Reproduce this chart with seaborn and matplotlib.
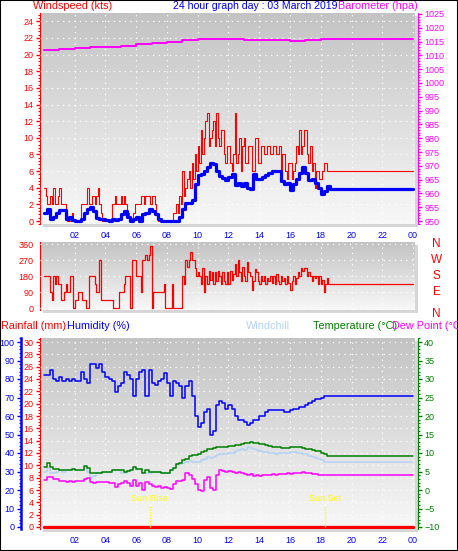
import numpy as np
import pandas as pd
import matplotlib
matplotlib.use("Agg")
import matplotlib.pyplot as plt
from matplotlib.ticker import MultipleLocator, FixedLocator
from matplotlib.patches import Rectangle
from matplotlib.colors import LinearSegmentedColormap
import seaborn as sns

# ---- data; the last entry of each series is the value held to 24:00
# 0.1 h samples for the gusty series (gust, direction)
fine_hours = list(np.round(np.arange(0, 18.41, 0.1), 1)) + [18.5]

gust_kts = [4, 3, 2, 2, 3, 2, 4, 2, 2, 3,
            4, 2, 2, 2, 1, 0, 0, 0, 1, 0,
            0, 0, 0, 0, 2, 2, 2, 2, 4, 2,
            2, 3, 3, 2, 3, 4, 2, 1, 0, 0,
            0, 0, 0, 0, 2, 2, 3, 2, 2, 2,
            3, 2, 3, 2, 1, 0, 0, 0, 1, 2,
            2, 2, 2, 3, 3, 2, 3, 3, 3, 2,
            3, 3, 2, 1, 0, 0, 0, 0, 0, 0,
            0, 0, 0, 0, 1, 1, 2, 1, 3, 2,
            6, 3, 4, 5, 6, 4, 7, 5, 8, 6,
            9, 7, 11, 8, 10, 12, 13, 9, 10, 11,
            12, 9, 13, 10, 9, 11, 11, 8, 7, 9,
            9, 7, 6, 8, 13, 7, 8, 10, 6, 9,
            10, 7, 7, 9, 9, 6, 6, 10, 10, 7,
            7, 9, 9, 8, 8, 9, 9, 8, 8, 9,
            9, 8, 8, 9, 6, 8, 8, 6, 5, 7,
            7, 5, 6, 7, 9, 8, 11, 8, 9, 11,
            11, 8, 7, 9, 6, 7, 4, 6, 6, 5,
            5, 6, 7, 7, 6,
            6]

wind_dir = [180, 180, 180, 180, 90, 45, 180, 135, 180, 135,
            135, 45, 45, 90, 135, 90, 90, 180, 180, 0,
            45, 45, 90, 90, 90, 45, 45, 0, 0, 180,
            180, 180, 180, 135, 90, 90, 270, 45, 45, 45,
            45, 45, 45, 45, 45, 0, 0, 0, 0, 90,
            90, 90, 135, 180, 180, 180, 0, 270, 270, 270,
            180, 180, 180, 90, 270, 270, 300, 270, 300, 350,
            0, 90, 90, 90, 90, 90, 90, 90, 135, 0,
            0, 0, 0, 135, 0, 0, 0, 0, 0, 0,
            180, 135, 270, 230, 270, 315, 270, 270, 225, 180,
            200, 180, 135, 225, 90, 180, 135, 210, 160, 200,
            135, 200, 150, 210, 180, 135, 200, 150, 135, 200,
            135, 210, 160, 190, 250, 180, 270, 200, 150, 230,
            180, 150, 260, 200, 180, 100, 150, 220, 200, 150,
            135, 180, 150, 180, 135, 170, 150, 180, 140, 180,
            135, 190, 150, 135, 180, 150, 170, 135, 180, 140,
            100, 150, 180, 135, 170, 200, 180, 225, 210, 225,
            225, 180, 200, 180, 150, 180, 170, 180, 135, 180,
            135, 160, 90, 135, 170,
            135]

# 0.2 h samples for the smoother series
hours = list(np.round(np.arange(0, 18.41, 0.2), 1)) + [18.6]

wind_kts = [1.0, 1.5, 0.2, 0.5, 1.0, 1.3, 1.3, 0.3, 0.5, 0.1,
            0.0, 0.0, 0.3, 1.0, 1.5, 1.7, 1.2, 0.4, 0.3, 0.3,
            0.1, 0.0, 0.2, 0.1, 0.3, 0.8, 1.2, 0.5, 0.0, 0.2,
            0.5, 0.0, 0.8, 1.0, 1.5, 1.2, 0.8, 0.3, 0.0, 0.0,
            0.0, 0.0, 0.0, 0.0, 0.5, 1.5, 2.2, 2.2, 2.5, 4.5,
            5.5, 5.6, 6.0, 6.5, 7.0, 6.8, 6.0, 5.4, 5.2, 4.9,
            5.3, 5.6, 4.3, 4.6, 4.2, 4.6, 4.0, 3.9, 5.6, 5.0,
            5.0, 5.3, 5.5, 5.8, 6.0, 6.0, 6.0, 4.8, 4.4, 4.6,
            3.7, 4.5, 5.0, 5.8, 6.5, 5.8, 4.9, 5.0, 4.6, 4.0,
            3.3, 3.6, 4.2,
            3.8]

humidity = [82, 82, 85, 80, 79, 81, 79, 80, 79, 80,
            79, 79, 84, 80, 78, 88, 88, 86, 88, 84,
            81, 80, 79, 73, 76, 78, 84, 82, 80, 71,
            80, 84, 85, 71, 85, 78, 77, 79, 80, 83,
            78, 71, 79, 78, 76, 70, 76, 79, 71, 60,
            54, 56, 62, 64, 50, 52, 66, 68, 67, 64,
            66, 64, 60, 58, 58, 57, 55, 56, 58, 58,
            60, 60, 62, 63, 63, 63, 63, 63, 62, 62,
            63, 64, 64, 65, 65, 66, 67, 68, 69, 69,
            70, 71, 71,
            71]

temperature = [6.3, 7.2, 6.2, 5.8, 5.6, 5.5, 5.5, 5.5, 5.5, 5.6,
               5.5, 5.5, 5.5, 6.5, 6.0, 4.5, 4.5, 4.5, 4.6, 4.8,
               4.8, 5.0, 5.4, 5.4, 5.3, 5.3, 5.0, 5.2, 5.3, 6.3,
               5.6, 5.6, 4.6, 5.3, 5.0, 4.9, 4.9, 4.9, 4.5, 4.5,
               4.6, 5.3, 6.0, 7.0, 7.3, 8.2, 8.5, 9.3, 9.5, 9.5,
               9.8, 10.3, 10.5, 11.0, 11.2, 11.3, 11.5, 11.6, 11.7, 11.7,
               11.8, 12.0, 12.2, 12.2, 12.5, 12.7, 12.8, 12.9, 12.7, 12.6,
               12.5, 12.3, 12.1, 11.8, 11.6, 11.5, 11.5, 11.4, 11.4, 11.4,
               11.5, 11.7, 11.7, 11.6, 11.4, 11.2, 11.0, 10.8, 10.6, 10.5,
               10.0, 9.8, 9.3,
               9.2]

windchill = [5.0, 6.0, 4.6, 4.6, 4.8, 5.5, 5.0, 5.5, 5.5, 5.6,
             5.5, 5.5, 5.5, 6.0, 5.0, 3.6, 3.8, 4.5, 4.6, 4.8,
             4.8, 5.0, 5.4, 5.4, 5.3, 4.5, 4.5, 5.2, 5.3, 6.3,
             5.6, 5.6, 4.6, 4.5, 4.5, 4.9, 4.9, 4.9, 4.5, 4.5,
             4.6, 5.3, 6.0, 7.0, 7.0, 7.2, 7.5, 7.8, 7.6, 7.5,
             7.6, 8.0, 8.3, 8.8, 8.6, 8.8, 9.5, 9.6, 9.8, 9.7,
             10.0, 10.0, 10.5, 10.8, 11.0, 10.9, 11.5, 11.3, 11.0, 10.8,
             10.6, 10.4, 10.2, 10.0, 9.9, 9.8, 9.9, 10.0, 9.9, 10.1,
             10.3, 10.2, 10.0, 10.1, 9.8, 9.6, 9.3, 9.0, 8.6, 8.4,
             8.0, 7.7, 7.5,
             7.5]

dew_point = [2.7, 3.6, 3.6, 2.9, 2.9, 2.3, 2.5, 2.2, 2.4, 2.2,
             2.3, 2.3, 2.4, 2.9, 3.2, 2.2, 2.0, 2.2, 2.1, 2.2,
             2.1, 2.0, 1.8, 0.9, 1.5, 2.0, 2.4, 1.8, 1.2, 2.6,
             1.0, 2.0, 0.0, 2.2, 1.5, 1.2, 0.9, 1.0, 0.5, 0.7,
             0.5, 0.4, 1.5, 2.3, 2.5, 2.8, 4.5, 4.0, 3.0, 1.5,
             0.0, -0.4, 2.7, 3.6, 0.5, 0.0, 4.0, 5.3, 5.2, 5.0,
             5.1, 4.9, 4.6, 4.9, 4.6, 4.4, 4.0, 4.3, 3.8, 4.1,
             3.7, 4.0, 4.1, 4.1, 4.2, 4.1, 4.3, 4.2, 4.3, 4.5,
             4.4, 4.5, 4.6, 4.6, 4.8, 4.7, 4.5, 4.4, 4.3, 4.1,
             4.0, 4.1, 4.1,
             4.1]

rain_mm = [0.0] * len(hours)

baro_hours = [0, 1, 2, 3, 4, 5, 6, 7, 8, 9, 10, 11, 12, 13, 14, 15, 16, 17, 18]
baro_hpa = [1011.9, 1012.3, 1012.6, 1012.9, 1013.2, 1013.5, 1014.0, 1014.4, 1015.0, 1015.6,
            1016.0, 1016.0, 1016.1, 1015.4, 1015.4, 1015.4, 1015.3, 1015.4, 1015.8]

hour_ticks = [2, 4, 6, 8, 10, 12, 14, 16, 18, 20, 22, 24]
hour_labels = ["02", "04", "06", "08", "10", "12", "14", "16", "18", "20", "22", "00"]
compass_deg = [0, 90, 180, 270, 360]
compass = ["N", "E", "S", "W", "N"]
sun_events = ["Sun Rise", "Sun Set"]
sun_hours = [6.87, 18.25]


def held(times, **series):
    # the station repeats its last reading up to the end of the day
    frame = {"hour": list(times) + [24.0]}
    for name, vals in series.items():
        frame[name] = list(vals) + [vals[-1]]
    return pd.DataFrame(frame)


df_fine = held(fine_hours, gust=gust_kts, dir=wind_dir)
df = held(hours, wind=wind_kts, hum=humidity, temp=temperature,
          chill=windchill, dew=dew_point, rain=rain_mm)
df_baro = held(baro_hours, baro=baro_hpa)

# ---- figure setup
sns.set_style("white")
plt.rcParams["font.family"] = ["Liberation Sans", "DejaVu Sans"]

W, H = 458, 551
fig = plt.figure(figsize=(W / 100, H / 100), dpi=100, facecolor="white")
PX = 72 / 100  # points per pixel

bg_cmap = LinearSegmentedColormap.from_list("bg", ["#c3c3c3", "#f8f8f8"])
grad = np.linspace(0, 1, 256).reshape(-1, 1)
XLIM = (-0.26, 24.13)


def panel(left, top, right, bottom):
    fig.add_artist(Rectangle(((left + 3) / W, 1 - (bottom + 3) / H), (right - left) / W,
                             (bottom - top) / H, transform=fig.transFigure,
                             facecolor="#d6d6d6", edgecolor="none", zorder=-1))
    ax = fig.add_axes([left / W, 1 - bottom / H, (right - left) / W, (bottom - top) / H])
    ax.imshow(grad, cmap=bg_cmap, aspect="auto", extent=(0, 1, 0, 1),
              transform=ax.transAxes, zorder=0, vmin=0, vmax=1)
    for s in ax.spines.values():
        s.set_visible(False)
    return ax


def twin(ax):
    t = ax.twinx()
    for s in t.spines.values():
        s.set_visible(False)
    return t


def yaxis_style(ax, side, color, major, minor, lim, fs=6.5):
    ax.set_ylim(*lim)
    ax.yaxis.set_major_locator(MultipleLocator(major))
    ax.yaxis.set_minor_locator(MultipleLocator(minor))
    ax.spines[side].set_visible(True)
    ax.spines[side].set_color(color)
    ax.tick_params(axis="y", which="major", direction="out", length=3, width=1,
                   color=color, labelcolor=color, labelsize=fs, pad=1.5)
    ax.tick_params(axis="y", which="minor", direction="out", length=1.5, width=0.8, color=color)
    ax.set_ylabel("")


def xaxis_style(ax, labels=True):
    ax.set_xlim(*XLIM)
    ax.xaxis.set_major_locator(FixedLocator(hour_ticks))
    ax.xaxis.set_minor_locator(MultipleLocator(0.5))
    if labels:
        ax.set_xticklabels(hour_labels)
        ax.tick_params(axis="x", which="major", direction="out", length=2.5, width=0.8,
                       color="#707070", labelcolor="blue", labelsize=6.5, pad=2.5)
        ax.tick_params(axis="x", which="minor", direction="out", length=2, width=0.8, color="#707070")
    else:
        ax.tick_params(axis="x", which="both", length=0, labelbottom=False)
    ax.set_xlabel("")


def grid(ax):
    ax.grid(True, which="major", color="white", linestyle=(0, (1, 3.5)), linewidth=0.9)
    ax.set_axisbelow(False)


def line(ax, data, y, color, lw):
    sns.lineplot(data=data, x="hour", y=y, ax=ax, color=color, linewidth=lw,
                 drawstyle="steps-post", estimator=None, zorder=3)


def ftext(x, y, s, color, ha="left", fs=7.8):
    fig.text(x / W, 1 - y / H, s, color=color, ha=ha, va="center", fontsize=fs)


# ---- top panel: wind speed and barometer
ax1 = panel(40, 13, 415, 224.4)
line(ax1, df_fine, "gust", "red", 0.8)
line(ax1, df, "wind", "blue", 2.3)
yaxis_style(ax1, "left", "red", 2, 0.4, (-0.4, 25))
ax1.yaxis.set_major_locator(FixedLocator(list(range(0, 25, 2))))
xaxis_style(ax1)
grid(ax1)

ax1b = twin(ax1)
line(ax1b, df_baro, "baro", "#ff00ff", 1.4)
yaxis_style(ax1b, "right", "#ff00ff", 5, 1, (948.77, 1025.36))
ax1b.spines["right"].set_position(("outward", 3 * PX))
xaxis_style(ax1b)

ftext(33, 6, "Windspeed (kts)", "red")
ftext(255, 6, "24 hour graph day : 03 March 2019", "blue", ha="center", fs=7.6)
ftext(418, 6, "Barometer (hpa)", "#ff00ff", ha="right")

# ---- middle panel: wind direction
ax2 = panel(40, 241.9, 415, 309.8)
line(ax2, df_fine, "dir", "red", 0.9)
yaxis_style(ax2, "left", "red", 90, 18, (-10, 372))
ax2.yaxis.set_major_locator(FixedLocator(compass_deg))
xaxis_style(ax2, labels=False)
grid(ax2)
for deg, lab in zip(compass_deg, compass):
    ax2.text(1.058, deg, lab, transform=ax2.get_yaxis_transform(), color="red",
             fontsize=8.5, ha="center", va="top" if deg == 0 else "center")

# ---- bottom panel: rain, humidity, temperatures
ftext(1, 326, "Rainfall (mm)", "red")
ftext(67, 326, "Humidity (%)", "blue")
ftext(246, 326, "Windchill", "#b4d2f5")
ftext(313, 326, "Temperature (\u00b0C)", "green")
ftext(392, 326, "Dew Point (\u00b0C)", "#ff00ff")

ax3 = panel(40, 338.3, 415, 528.85)
line(ax3, df, "rain", "red", 2.4)
yaxis_style(ax3, "left", "red", 2, 0.5, (-0.3, 30.6))
xaxis_style(ax3)
grid(ax3)

ax3h = twin(ax3)
ax3h.yaxis.set_ticks_position("left")
ax3h.yaxis.set_label_position("left")
line(ax3h, df, "hum", "blue", 1.1)
yaxis_style(ax3h, "left", "blue", 10, 2, (-1, 102))
ax3h.spines["left"].set_position(("outward", 19 * PX))
ax3h.spines["left"].set_linewidth(1.8)
xaxis_style(ax3h)

ax3t = twin(ax3)
line(ax3t, df, "chill", "#b4d2f5", 1.1)
line(ax3t, df, "temp", "green", 1.1)
line(ax3t, df, "dew", "#ff00ff", 1.1)
yaxis_style(ax3t, "right", "green", 5, 1, (-10.5, 41.0))
ax3t.spines["right"].set_position(("outward", 3 * PX))
xaxis_style(ax3t)
ax3t.vlines(sun_hours, -10, -4.3, colors="yellow", linestyles=(0, (1, 1)), linewidth=1, zorder=4)
ax3t.vlines(sun_hours, -4.3, -3.6, colors="white", linewidth=1, zorder=4)
for h, lab in zip(sun_hours, sun_events):
    ax3t.text(h, -2.2, lab, color="yellow", fontsize=6.5, ha="center", va="center", zorder=5)

fig.add_artist(Rectangle((0, 0), 1, 1, transform=fig.transFigure, fill=False,
                         edgecolor="black", linewidth=1.5))

fig.savefig("out.png", dpi=100, facecolor="white")
